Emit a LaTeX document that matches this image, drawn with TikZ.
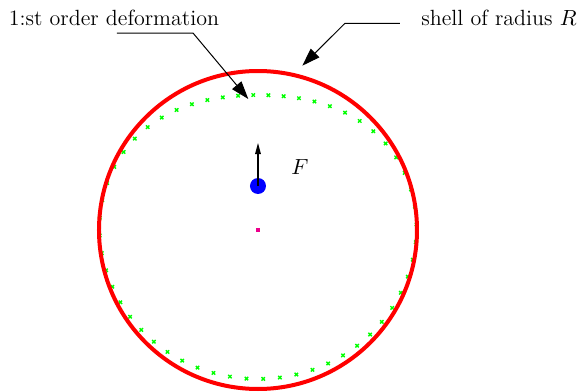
\documentclass[tikz,border=0pt]{standalone}
\usepackage{tikz}
\usetikzlibrary{arrows.meta, positioning}
\tikzset{
  shell/.style   = {draw=red, line width=2pt},
  defmark/.style = {green, line width=0.7pt, only marks, mark=x, mark size=1.2pt},
  ptr/.style     = {-{Triangle[length=9pt, width=6pt]}, line width=0.5pt, black},
  farr/.style    = {-{Triangle[length=5.5pt, width=2.8pt]}, line width=0.6pt, black},
  labl/.style    = {font=\fontsize{11}{13}\selectfont, inner sep=0pt, anchor=base},
  mass/.style    = {circle, fill=blue, minimum size=8pt, inner sep=0pt},
  cmass/.style   = {fill=magenta, minimum size=1.8pt, inner sep=0pt},
}

\begin{document}
\begin{tikzpicture}[x=0.5pt, y=0.5pt,
  declare function={rdef(\t)=150.875-4.56*cos(\t)-8.25*cos(2*\t)-2.44*cos(3*\t)-0.625*cos(4*\t);}]
  \useasboundingbox (-258,-162) rectangle (322,230);

  % deformed shell
  \draw[defmark] plot[variable=\t, samples=56, domain=-2:351.57]
    ({rdef(\t)*sin(\t)}, {rdef(\t)*cos(\t)});

  % shell of radius R
  \draw[shell] (0,0) circle[radius=159];

  % centre and the point mass
  \node[cmass] (centre) at (0,0) {};
  \node[mass] (pmass) at (0,44) {};
  \coordinate (ftip) at (0,87);
  \draw[farr] (pmass.center) -- (ftip);
  \node[labl] (force) at (42,55) {$F$};

  % labels
  \node[labl] (deform) at (-144,205) {1:st order deformation};
  \node[labl] (radius) at (241,205) {shell of radius $R$};

  % pointers
  \coordinate (defstart) at (-141,197);
  \coordinate (defknee)  at (-65,197);
  \coordinate (deftip)   at (-9.7,131);
  \draw[ptr] (defstart) -- (defknee) -- (deftip);

  \coordinate (radstart) at (142,206.7);
  \coordinate (radknee)  at (87,206.7);
  \coordinate (radtip)   at (44.3,164.3);
  \draw[ptr] (radstart) -- (radknee) -- (radtip);

\end{tikzpicture}
\end{document}
